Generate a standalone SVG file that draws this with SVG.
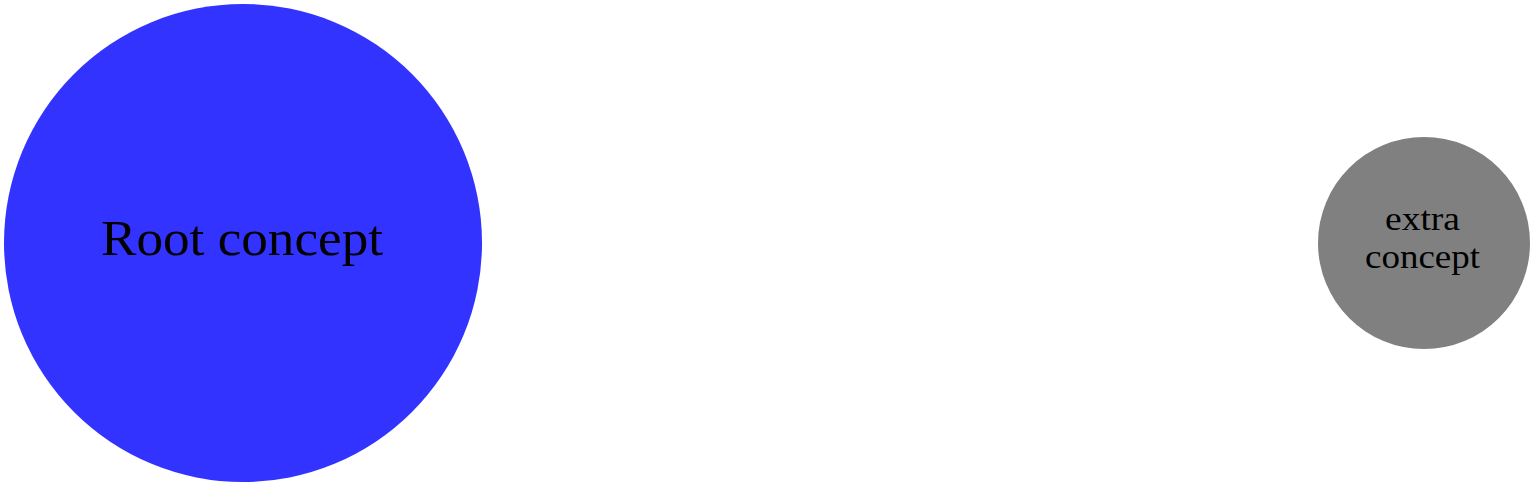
<svg xmlns="http://www.w3.org/2000/svg" width="1535" height="486" viewBox="0 0 1535 486">
<style>
text{font-family:"Liberation Serif","DejaVu Serif",serif;fill:#000;text-anchor:middle}
</style>
<rect width="1535" height="486" fill="#fff"/>
<g id="connectors"></g>
<g id="root">
<circle cx="243" cy="243" r="239" fill="#3333ff"/>
<text x="242" y="255" font-size="50" textLength="282" lengthAdjust="spacingAndGlyphs">Root concept</text>
</g>
<g id="extra">
<circle cx="1424" cy="243" r="106" fill="#808080"/>
<text x="1422.5" y="230" font-size="33" textLength="75" lengthAdjust="spacingAndGlyphs">extra</text>
<text x="1422.5" y="268" font-size="33" textLength="115" lengthAdjust="spacingAndGlyphs">concept</text>
</g>
</svg>
